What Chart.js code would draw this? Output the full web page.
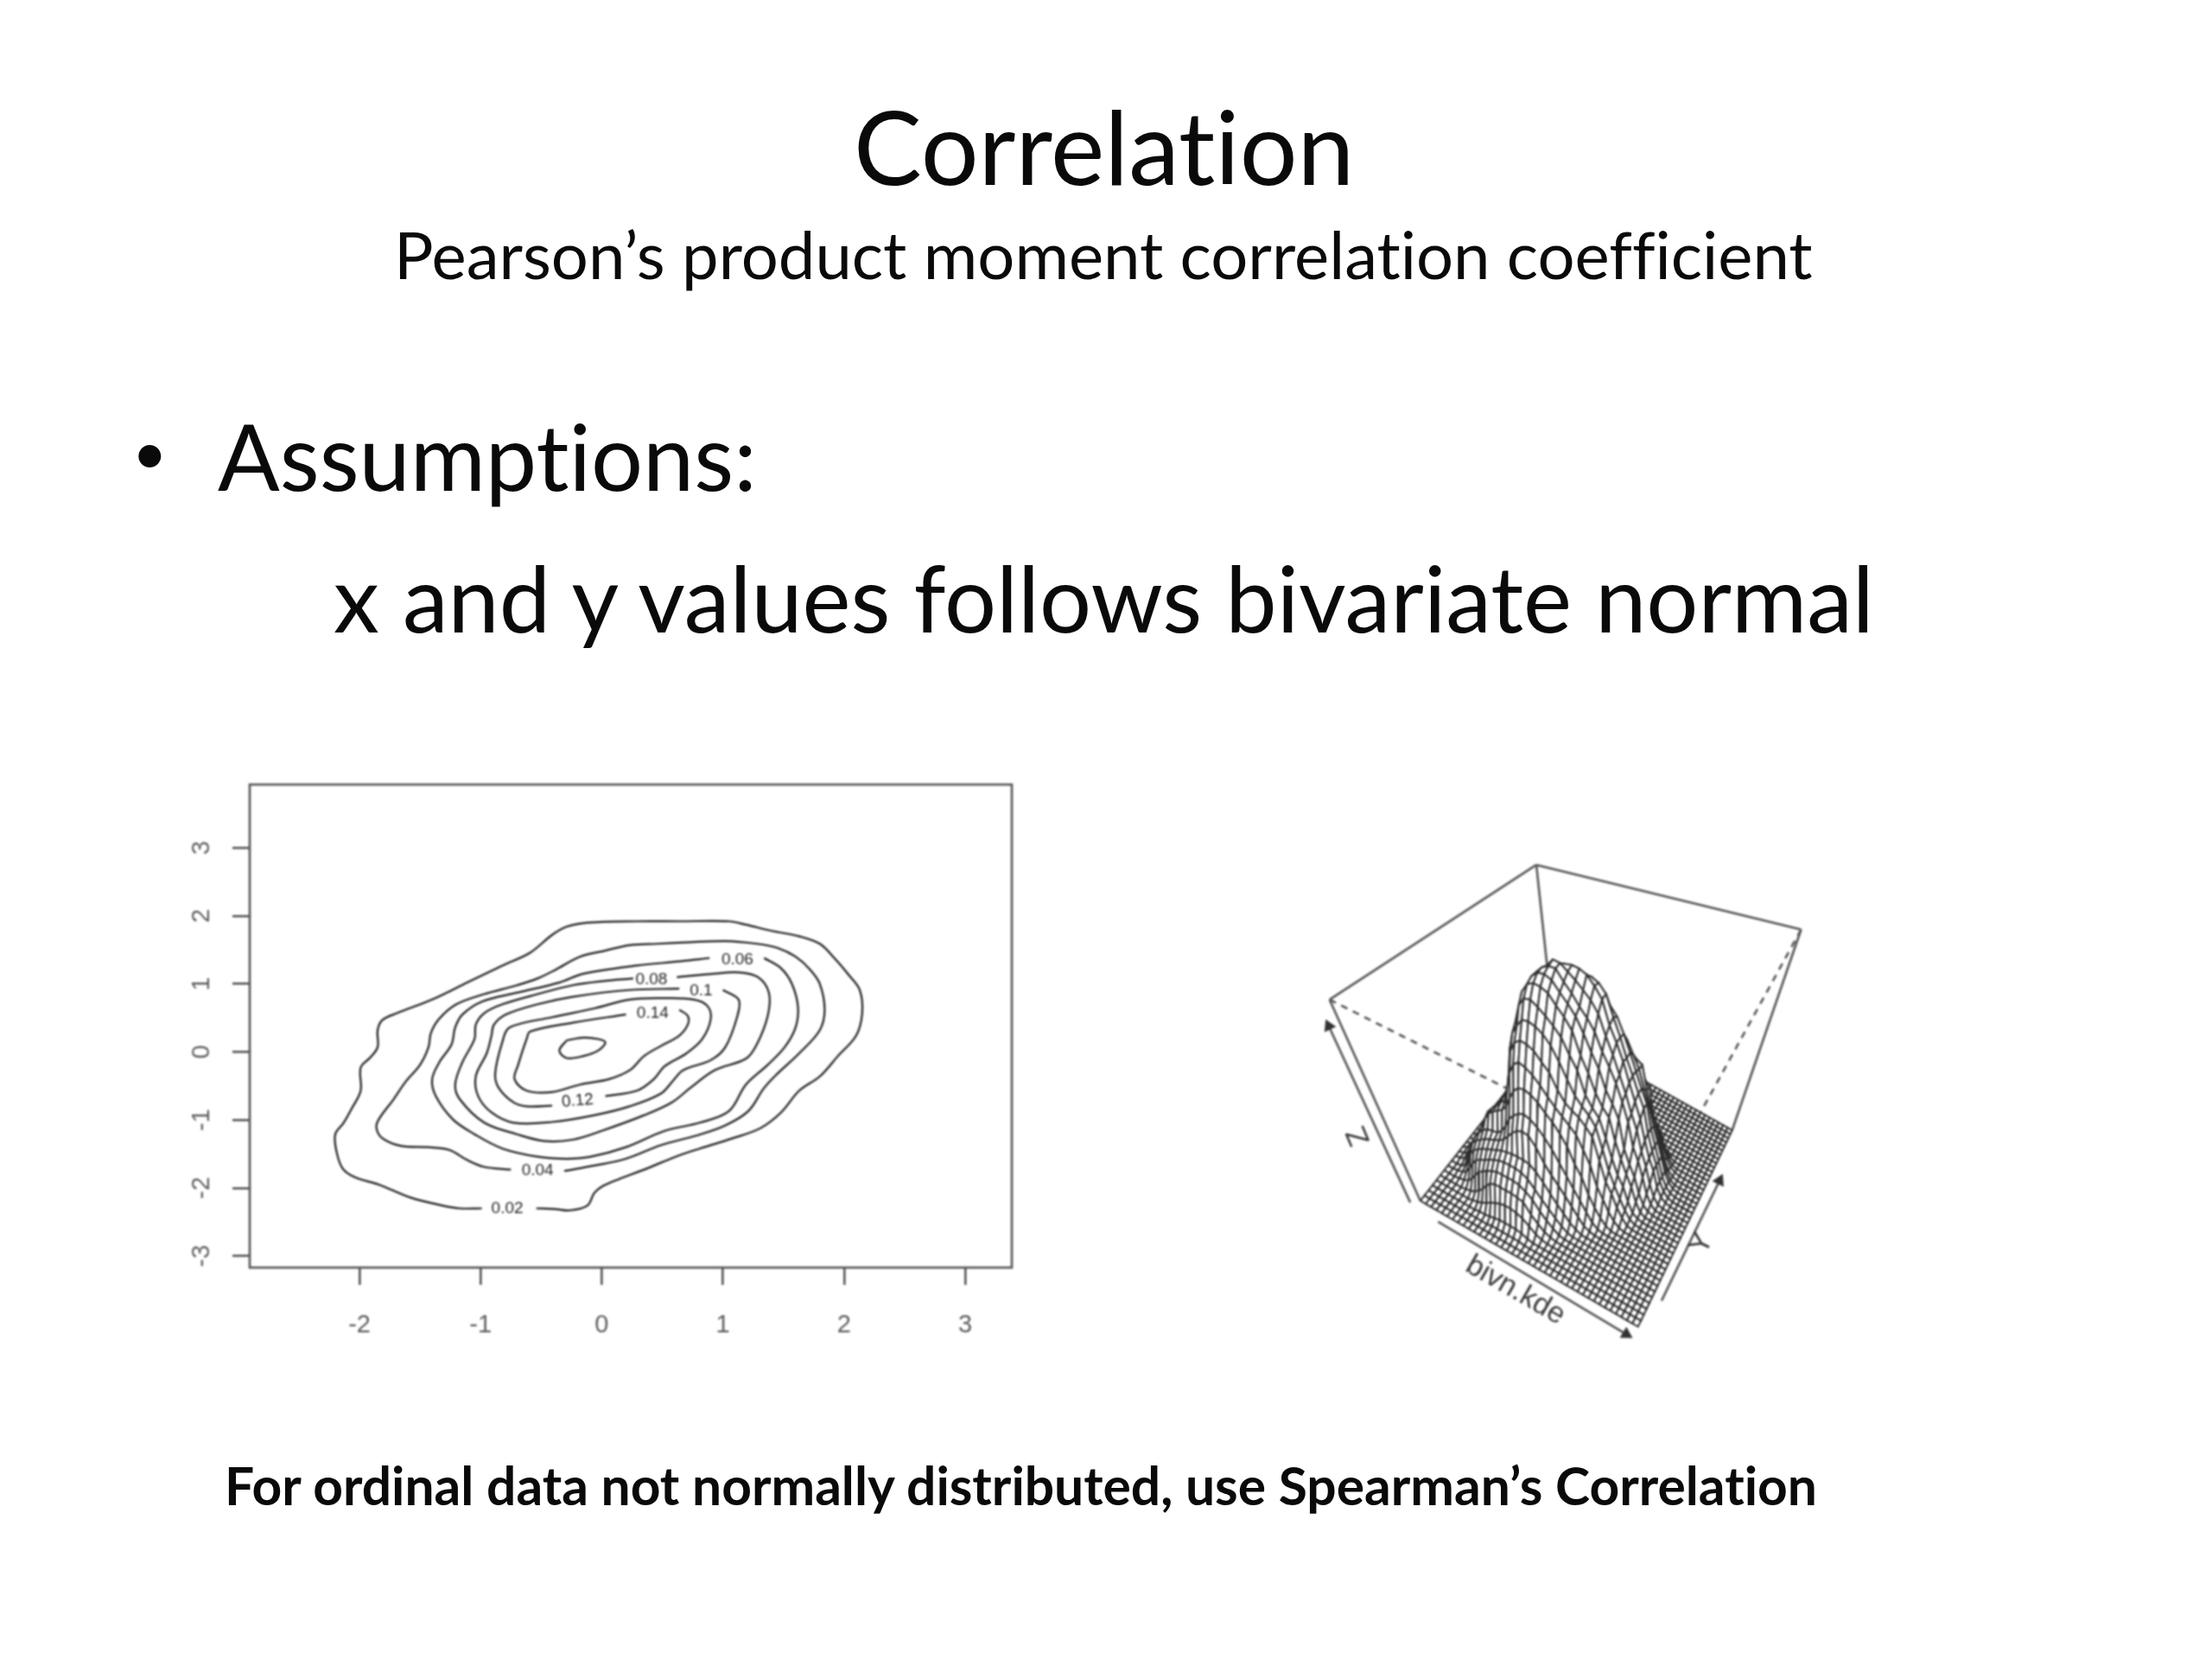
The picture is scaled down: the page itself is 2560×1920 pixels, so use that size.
<!DOCTYPE html>
<html><head><meta charset="utf-8">
<script src="https://cdn.jsdelivr.net/npm/chart.js@4"></script>
<style>
html,body{margin:0;padding:0;background:#fff;width:2560px;height:1920px;overflow:hidden}
.t{position:absolute;white-space:nowrap;font-family:Lato,Carlito,sans-serif;color:#0a0a0a;line-height:0;font-variant-ligatures:none}
canvas{position:absolute;filter:blur(0.8px)}
</style></head><body>
<div class="t" style="left:988px;top:169px;font-size:118px">Correlation</div>
<div class="t" style="left:456px;top:294px;font-size:76px">Pearson’s product moment correlation coefficient</div>
<div class="t" style="left:153px;top:522px;font-size:70px">•</div>
<div class="t" style="left:252px;top:527px;font-size:106px">Assumptions:</div>
<div class="t" style="left:386px;top:691px;font-size:106px">x and y values follows bivariate normal</div>
<div class="t" style="left:260px;top:1719px;font-size:60.5px;font-weight:700">For ordinal data not normally distributed, use Spearman’s Correlation</div>
<canvas id="contour" width="1000" height="720" style="left:190px;top:880px"></canvas>
<canvas id="surface" width="630" height="610" style="left:1500px;top:970px"></canvas>
<script>
const xTicks=[-2,-1,0,1,2,3];
const yTicks=[-3,-2,-1,0,1,2,3];
const contour02=[[-0.54,-2.26],[-0.38,-2.27],[-0.27,-2.29],[-0.12,-2.22],[-0.06,-2.03],[0.01,-1.93],[0.14,-1.83],[0.35,-1.69],[0.61,-1.50],[0.81,-1.38],[1.08,-1.23],[1.31,-1.08],[1.48,-0.85],[1.63,-0.53],[1.80,-0.32],[1.95,-0.02],[2.10,0.28],[2.15,0.61],[2.13,0.95],[2.04,1.17],[1.92,1.42],[1.80,1.63],[1.63,1.74],[1.40,1.82],[1.19,1.91],[1.05,1.96],[0.64,1.96],[0.29,1.96],[-0.12,1.94],[-0.29,1.88],[-0.41,1.76],[-0.59,1.50],[-0.82,1.31],[-1.11,1.06],[-1.40,0.81],[-1.69,0.61],[-1.81,0.51],[-1.85,0.36],[-1.85,0.11],[-1.91,-0.04],[-1.99,-0.19],[-1.99,-0.53],[-2.06,-0.78],[-2.13,-1.00],[-2.20,-1.17],[-2.19,-1.42],[-2.14,-1.67],[-2.04,-1.80],[-1.84,-1.91],[-1.58,-2.10],[-1.31,-2.22],[-1.17,-2.26],[-0.99,-2.26]];
const contour04=[[-0.31,-1.71],[-0.06,-1.63],[0.20,-1.53],[0.49,-1.33],[0.78,-1.19],[1.02,-1.04],[1.21,-0.83],[1.34,-0.49],[1.45,-0.28],[1.63,0.02],[1.80,0.36],[1.84,0.66],[1.80,1.04],[1.72,1.25],[1.60,1.44],[1.45,1.57],[1.28,1.63],[1.02,1.67],[0.70,1.65],[0.46,1.63],[0.23,1.61],[0.03,1.53],[-0.18,1.44],[-0.38,1.25],[-0.53,1.12],[-0.70,1.02],[-0.97,0.89],[-1.20,0.74],[-1.34,0.53],[-1.41,0.32],[-1.43,0.11],[-1.50,-0.15],[-1.62,-0.40],[-1.72,-0.66],[-1.84,-0.95],[-1.86,-1.08],[-1.81,-1.23],[-1.66,-1.34],[-1.43,-1.36],[-1.26,-1.40],[-1.11,-1.55],[-0.97,-1.65],[-0.75,-1.69]];
const contour06=[[1.34,1.42],[1.48,1.27],[1.57,1.04],[1.62,0.70],[1.60,0.40],[1.51,0.11],[1.37,-0.15],[1.19,-0.44],[1.05,-0.83],[0.81,-1.00],[0.52,-1.12],[0.20,-1.36],[-0.09,-1.50],[-0.29,-1.53],[-0.53,-1.50],[-0.82,-1.38],[-1.05,-1.17],[-1.23,-0.95],[-1.37,-0.61],[-1.40,-0.36],[-1.34,-0.11],[-1.24,0.15],[-1.21,0.40],[-1.15,0.59],[-0.99,0.78],[-0.70,0.91],[-0.35,1.06],[-0.15,1.19],[0.29,1.31],[0.64,1.37],[0.89,1.42]];
const contour08=[[0.62,1.14],[0.93,1.19],[1.13,1.21],[1.29,1.14],[1.38,0.91],[1.37,0.57],[1.28,0.15],[1.19,-0.06],[0.93,-0.23],[0.73,-0.49],[0.58,-0.70],[0.35,-0.89],[0.00,-1.12],[-0.24,-1.25],[-0.47,-1.27],[-0.70,-1.17],[-0.97,-1.00],[-1.17,-0.66],[-1.21,-0.44],[-1.15,-0.11],[-1.05,0.23],[-1.04,0.44],[-0.97,0.61],[-0.82,0.74],[-0.53,0.89],[-0.24,1.02],[0.00,1.08],[0.26,1.12]];
const contour10=[[1.00,0.95],[1.13,0.81],[1.12,0.57],[1.02,0.11],[0.90,-0.08],[0.67,-0.23],[0.59,-0.38],[0.49,-0.57],[0.23,-0.76],[-0.06,-0.89],[-0.41,-0.99],[-0.73,-1.00],[-0.91,-0.85],[-1.02,-0.61],[-1.04,-0.32],[-0.95,0.02],[-0.91,0.28],[-0.89,0.44],[-0.79,0.59],[-0.53,0.74],[-0.24,0.85],[0.23,0.95],[0.64,0.97]];
const contour12=[[0.03,-0.61],[0.29,-0.53],[0.43,-0.36],[0.52,-0.17],[0.70,0.02],[0.83,0.23],[0.90,0.53],[0.87,0.72],[0.76,0.81],[0.52,0.83],[0.23,0.81],[-0.06,0.68],[-0.41,0.55],[-0.76,0.40],[-0.82,0.19],[-0.88,-0.28],[-0.85,-0.49],[-0.73,-0.70],[-0.62,-0.76],[-0.41,-0.75]];
const contour14=[[0.64,0.66],[0.71,0.57],[0.71,0.44],[0.64,0.28],[0.49,0.13],[0.35,-0.02],[0.23,-0.23],[0.06,-0.36],[-0.18,-0.44],[-0.41,-0.55],[-0.62,-0.53],[-0.72,-0.36],[-0.69,-0.15],[-0.62,0.23],[-0.59,0.34],[-0.24,0.47],[0.20,0.59]];
const contour16=[[-0.29,0.21],[-0.15,0.25],[-0.03,0.23],[0.03,0.18],[-0.03,0.06],[-0.15,-0.02],[-0.29,-0.05],[-0.35,0.06],[-0.29,0.21]];
const contourLines=[contour02,contour04,contour06,contour08,contour10,contour12,contour14,contour16];
const levelText=["0.02","0.04","0.06","0.08","0.1","0.12","0.14"];
const levelX=[-0.78,-0.53,1.12,0.41,0.82,-0.20,0.42];
const levelY=[-2.26,-1.71,1.40,1.10,0.94,-0.68,0.61];
const levelTilt=[0,0,0,0,0,-5,0];
const readingOffsetY=-0.04; // calibration of the traced contours against the y axis
// density on the floor grid, in thousandths; each row is one Y position, columns run along bivn.kde
const density=[
[0,0,0,0,0,0,0,0,0,0,0,0,0,0,0,0,0,0,0,0,0,0,0,0,0,0,0,0,0,0,0,0,0,0,0,0,0,0,0,0,0],
[0,0,0,0,0,0,0,0,0,0,0,0,0,0,0,0,0,0,0,0,0,0,0,0,0,0,0,0,0,0,0,0,0,0,0,0,0,0,0,0,0],
[0,0,0,0,0,0,0,0,0,0,0,0,1,1,1,1,1,1,0,0,0,0,0,0,0,0,0,0,0,0,0,0,0,0,0,0,0,0,0,0,0],
[0,0,0,0,0,0,0,0,0,1,1,2,3,4,4,4,4,3,1,0,0,0,0,0,0,0,0,0,0,0,0,0,0,0,0,0,0,0,0,0,0],
[0,0,0,0,0,0,0,1,2,4,6,9,11,13,14,14,13,11,7,3,1,0,0,0,0,0,0,0,0,0,0,0,0,0,0,0,0,0,0,0,0],
[0,0,0,0,0,1,2,4,7,11,16,20,22,22,22,22,21,20,12,7,3,1,0,0,0,0,0,0,0,0,0,0,0,0,0,0,0,0,0,0,0],
[0,0,0,1,2,4,8,13,18,21,24,26,28,28,28,28,27,24,20,13,8,4,1,0,0,0,0,0,0,0,0,0,0,0,0,0,0,0,0,0,0],
[0,0,1,2,5,10,16,21,24,26,29,31,33,34,34,34,33,30,24,18,13,8,4,1,0,0,0,0,0,0,0,0,0,0,0,0,0,0,0,0,0],
[0,0,1,4,10,18,23,26,29,31,33,35,37,38,39,39,39,38,34,28,21,15,10,5,2,0,0,0,0,0,0,0,0,0,0,0,0,0,0,0,0],
[0,1,3,9,17,23,27,30,33,35,37,39,42,47,52,56,58,57,50,39,32,26,20,14,8,3,1,0,0,0,0,0,0,0,0,0,0,0,0,0,0],
[0,1,4,11,18,25,30,34,37,38,39,43,49,57,62,66,68,66,62,56,49,40,32,24,17,10,4,1,0,0,0,0,0,0,0,0,0,0,0,0,0],
[0,2,5,11,18,25,32,40,46,50,53,56,61,70,78,83,84,82,78,72,67,60,52,40,32,20,12,6,2,0,0,0,0,0,0,0,0,0,0,0,0],
[0,1,3,8,16,21,33,42,47,51,56,60,73,87,96,100,98,94,88,81,75,70,65,60,50,40,25,17,9,4,1,0,0,0,0,0,0,0,0,0,0],
[0,0,2,6,12,19,27,36,44,52,58,66,79,101,110,114,113,110,103,97,85,77,73,70,65,59,42,27,20,11,5,1,0,0,0,0,0,0,0,0,0],
[0,0,2,5,11,17,24,31,40,50,60,77,97,112,120,127,128,126,122,115,104,92,81,75,70,63,47,32,22,14,7,2,0,0,0,0,0,0,0,0,0],
[0,0,1,5,10,16,23,29,36,53,65,82,100,118,133,141,142,138,133,127,120,108,98,80,72,66,52,38,27,20,10,3,1,0,0,0,0,0,0,0,0],
[0,0,1,4,9,15,20,27,35,52,64,82,100,122,141,149,152,151,148,140,133,124,106,94,80,71,65,48,36,26,18,8,2,0,0,0,0,0,0,0,0],
[0,0,1,3,8,13,18,25,33,42,62,77,98,120,140,152,157,158,155,147,140,132,120,107,96,81,72,62,40,30,22,11,4,1,0,0,0,0,0,0,0],
[0,0,1,3,7,12,17,24,32,42,60,80,95,120,138,152,158,161,161,152,145,136,129,120,106,96,85,72,58,40,31,20,9,3,0,0,0,0,0,0,0],
[0,0,1,3,6,11,17,22,29,37,50,68,88,112,132,146,156,163,162,157,152,146,140,131,115,102,88,75,61,50,35,25,13,5,1,0,0,0,0,0,0],
[0,0,1,2,5,10,16,22,28,35,48,65,84,102,117,140,150,156,158,159,158,155,148,139,120,108,95,80,67,55,40,28,20,9,3,1,0,0,0,0,0],
[0,0,0,1,3,7,12,18,26,36,46,59,80,93,105,115,121,128,134,140,146,150,147,140,123,109,94,82,70,60,42,30,21,10,4,1,0,0,0,0,0],
[0,0,0,0,1,3,6,10,15,21,31,40,60,84,92,100,106,112,118,122,127,130,131,127,120,108,95,82,70,60,42,31,20,10,4,1,0,0,0,0,0],
[0,0,0,0,0,1,3,5,8,12,18,26,36,48,60,76,86,92,97,100,104,106,107,106,104,100,90,80,66,54,40,30,20,10,4,1,0,0,0,0,0],
[0,0,0,0,0,0,1,3,5,8,11,16,22,28,36,46,56,68,78,81,84,86,88,88,87,85,83,80,62,48,36,26,16,7,2,0,0,0,0,0,0],
[0,0,0,0,0,0,0,1,2,4,7,10,14,19,25,32,41,48,54,59,63,66,69,71,72,72,70,66,60,40,31,20,10,4,1,0,0,0,0,0,0],
[0,0,0,0,0,0,0,0,1,2,4,7,10,13,18,24,30,38,42,45,48,51,53,56,57,56,52,47,42,33,25,16,8,3,1,0,0,0,0,0,0],
[0,0,0,0,0,0,0,0,0,1,2,4,7,10,13,18,24,29,33,36,38,40,41,42,42,41,40,36,31,26,20,11,5,1,0,0,0,0,0,0,0],
[0,0,0,0,0,0,0,0,0,0,1,2,4,7,10,14,20,24,26,28,29,30,30,30,29,28,26,23,20,14,9,5,2,0,0,0,0,0,0,0,0],
[0,0,0,0,0,0,0,0,0,0,0,1,2,4,6,9,12,15,17,18,19,19,19,19,19,18,15,12,9,6,3,1,0,0,0,0,0,0,0,0,0],
[0,0,0,0,0,0,0,0,0,0,0,0,1,2,3,5,7,8,9,10,10,10,10,9,8,7,6,4,3,1,0,0,0,0,0,0,0,0,0,0,0],
[0,0,0,0,0,0,0,0,0,0,0,0,0,0,1,2,3,3,4,4,4,4,4,4,3,2,2,1,0,0,0,0,0,0,0,0,0,0,0,0,0],
[0,0,0,0,0,0,0,0,0,0,0,0,0,0,0,0,0,1,1,1,1,1,1,1,1,0,0,0,0,0,0,0,0,0,0,0,0,0,0,0,0],
[0,0,0,0,0,0,0,0,0,0,0,0,0,0,0,0,0,0,0,0,0,0,0,0,0,0,0,0,0,0,0,0,0,0,0,0,0,0,0,0,0],
[0,0,0,0,0,0,0,0,0,0,0,0,0,0,0,0,0,0,0,0,0,0,0,0,0,0,0,0,0,0,0,0,0,0,0,0,0,0,0,0,0],
[0,0,0,0,0,0,0,0,0,0,0,0,0,0,0,0,0,0,0,0,0,0,0,0,0,0,0,0,0,0,0,0,0,0,0,0,0,0,0,0,0],
[0,0,0,0,0,0,0,0,0,0,0,0,0,0,0,0,0,0,0,0,0,0,0,0,0,0,0,0,0,0,0,0,0,0,0,0,0,0,0,0,0],
[0,0,0,0,0,0,0,0,0,0,0,0,0,0,0,0,0,0,0,0,0,0,0,0,0,0,0,0,0,0,0,0,0,0,0,0,0,0,0,0,0],
[0,0,0,0,0,0,0,0,0,0,0,0,0,0,0,0,0,0,0,0,0,0,0,0,0,0,0,0,0,0,0,0,0,0,0,0,0,0,0,0,0],
[0,0,0,0,0,0,0,0,0,0,0,0,0,0,0,0,0,0,0,0,0,0,0,0,0,0,0,0,0,0,0,0,0,0,0,0,0,0,0,0,0],
[0,0,0,0,0,0,0,0,0,0,0,0,0,0,0,0,0,0,0,0,0,0,0,0,0,0,0,0,0,0,0,0,0,0,0,0,0,0,0,0,0]
];
const densityMax=163;
const axisNames=["Z","bivn.kde","Y"];

Chart.defaults.animation=false;
Chart.defaults.font.family='"Liberation Sans",Arial,sans-serif';

/* ---------- contour panel ---------- */
const boxAndLabels={id:'boxAndLabels',afterDraw(c){
  const g=c.ctx,a=c.chartArea;
  g.save();g.strokeStyle='#555';g.lineWidth=2.6;
  g.strokeRect(a.left,a.top,a.right-a.left,a.bottom-a.top);
  g.fillStyle='#222';g.font='19px "Liberation Sans"';g.textAlign='center';g.textBaseline='middle';
  levelText.forEach((t,i)=>{
    g.save();g.translate(c.scales.x.getPixelForValue(levelX[i]),c.scales.y.getPixelForValue(levelY[i]+readingOffsetY));
    g.rotate(levelTilt[i]*Math.PI/180);g.fillText(t,0,0);g.restore();
  });
  g.restore();
}};
const tickStyle={drawOnChartArea:false,drawTicks:true,tickLength:20,color:'#555',lineWidth:2.6};
const noPad=s=>{s.paddingLeft=s.paddingRight=s.paddingTop=s.paddingBottom=0};
new Chart(document.getElementById('contour'),{
  type:'scatter',
  data:{datasets:contourLines.map(l=>({data:l.map(p=>({x:p[0],y:p[1]+readingOffsetY})),showLine:true,pointRadius:0,borderColor:'#1c1c1c',borderWidth:2.2,tension:0.35,fill:false}))},
  plugins:[boxAndLabels],
  options:{responsive:false,devicePixelRatio:1,
    layout:{padding:{left:0,right:19,top:28,bottom:0}},
    plugins:{legend:{display:false},tooltip:{enabled:false}},
    scales:{
      x:{type:'linear',min:-2.906,max:3.385,grid:tickStyle,border:{display:false},
        afterBuildTicks:s=>{s.ticks=xTicks.map(v=>({value:v}))},
        afterFit:s=>{s.height=133;noPad(s)},
        ticks:{color:'#5e5e5e',font:{size:29},padding:30,maxRotation:0,autoSkip:false,callback:v=>String(v)}},
      y:{type:'linear',min:-3.17,max:3.93,grid:tickStyle,border:{display:false},
        afterBuildTicks:s=>{s.ticks=yTicks.map(v=>({value:v}))},
        afterFit:s=>{s.width=99;noPad(s)},
        ticks:{color:'#5e5e5e',font:{size:29},padding:22,minRotation:90,maxRotation:90,crossAlign:'center',autoSkip:false,callback:v=>String(v)}}
    }}
});

/* ---------- perspective surface panel ---------- */
const floorCorners=[[139,423],[398,573],[510,339],[298,220]];
const topCorners=[[31,183.5],[435,386],[592,100],[277,23]];
function homography(q){
  const [p0,p1,p2,p3]=q;
  const dx1=p1[0]-p2[0],dx2=p3[0]-p2[0],sx=p0[0]-p1[0]+p2[0]-p3[0];
  const dy1=p1[1]-p2[1],dy2=p3[1]-p2[1],sy=p0[1]-p1[1]+p2[1]-p3[1];
  const den=dx1*dy2-dx2*dy1,g=(sx*dy2-dx2*sy)/den,h=(dx1*sy-sx*dy1)/den;
  const a=p1[0]-p0[0]+g*p1[0],b=p3[0]-p0[0]+h*p3[0],d=p1[1]-p0[1]+g*p1[1],e=p3[1]-p0[1]+h*p3[1];
  return (u,v)=>{const w=g*u+h*v+1;return [(a*u+b*v+p0[0])/w,(d*u+e*v+p0[1])/w]};
}
const hFloor=homography(floorCorners),hTop=homography(topCorners);
function project(u,v,w){const f=hFloor(u,v),t=hTop(u,v);return {x:f[0]+(t[0]-f[0])*w,y:f[1]+(t[1]-f[1])*w}}
const rows=density.length,cols=density[0].length;
const gridPoint=(i,j)=>project(i/(cols-1),j/(rows-1),(density[j][i]||0)/densityMax);

const surfaceSets=[];
// lower index is painted on top: nearest cells first
for(let j=0;j<rows-1;j++)for(let i=cols-2;i>=0;i--){
  const p=[gridPoint(i,j),gridPoint(i+1,j),gridPoint(i+1,j+1),gridPoint(i,j+1)];
  surfaceSets.push({data:[...p,p[0]],showLine:true,pointRadius:0,borderColor:'#2c2c2c',borderWidth:2,
    backgroundColor:'#fff',fill:'shape',tension:0,clip:false});
}
const corner=(u,v,w)=>project(u,v,w);
const edge=(a,b,extra)=>Object.assign({data:[a,b],showLine:true,pointRadius:0,borderColor:'#555',borderWidth:2.6,fill:false,clip:false},extra||{});
const boxSets=[
  edge(corner(0,0,1),corner(0,1,1)),edge(corner(0,1,1),corner(1,1,1)),
  edge(corner(0,0,0),corner(0,0,1)),edge(corner(1,1,0),corner(1,1,1)),
  edge(corner(0,1,0),corner(0,1,1)),
  edge(corner(0,0,1),corner(1,0,1),{borderDash:[8,7]}),edge(corner(1,1,1),corner(1,0,1),{borderDash:[8,7]})
];
const arrowEnds=[[[127,425],[30,215]],[[160,448],[384,582]],[[426,542],[495,399]]];
const arrowSets=arrowEnds.map(a=>({
  data:[{x:a[0][0],y:a[0][1]},{x:a[1][0],y:a[1][1]}],showLine:true,borderColor:'#555',borderWidth:2.6,fill:false,clip:false,
  pointRadius:[0,6],pointStyle:'triangle',pointBackgroundColor:'#333',pointBorderColor:'#333',
  pointRotation:Math.atan2(a[1][0]-a[0][0],a[0][1]-a[1][1])*180/Math.PI}));
const axisText={id:'axisText',afterDraw(c){
  const g=c.ctx,place=[[66,346,-113],[252,530,30],[474,474,-64]];
  g.save();g.fillStyle='#3c3c3c';g.font='34px "Liberation Sans"';g.textAlign='center';g.textBaseline='middle';
  axisNames.forEach((t,i)=>{g.save();g.translate(c.scales.x.getPixelForValue(place[i][0]),c.scales.y.getPixelForValue(place[i][1]));
    g.rotate(place[i][2]*Math.PI/180);g.fillText(t,0,0);g.restore();});
  g.restore();
}};
new Chart(document.getElementById('surface'),{
  type:'scatter',
  data:{datasets:[...surfaceSets,...boxSets,...arrowSets]},
  plugins:[axisText],
  options:{responsive:false,devicePixelRatio:1,layout:{padding:0},
    plugins:{legend:{display:false},tooltip:{enabled:false}},
    scales:{x:{type:'linear',min:0,max:630,display:false},y:{type:'linear',min:0,max:610,reverse:true,display:false}}}
});
</script>
</body></html>
